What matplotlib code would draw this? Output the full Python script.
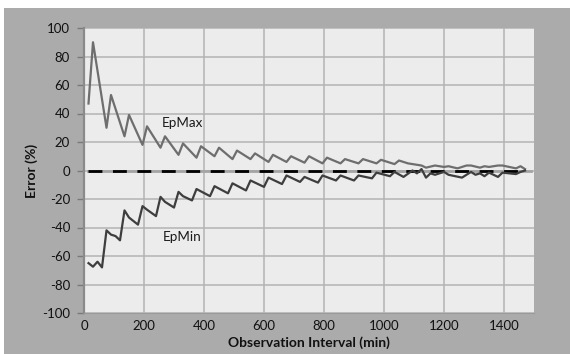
import matplotlib.pyplot as plt
from matplotlib.patches import Rectangle

plt.rcParams['font.family'] = ['Lato', 'DejaVu Sans']
plt.rcParams['axes.unicode_minus'] = False

# ── data ───────────────────────────────────────────────────
epmax_x = [15, 30, 75, 90, 135, 150, 195, 210, 255, 270, 315, 330, 375, 390,
           435, 450, 495, 510, 555, 570, 615, 630, 675, 690, 735, 750, 795, 810,
           855, 870, 915, 930, 975, 990, 1035, 1050, 1080, 1110, 1125, 1140,
           1170, 1200, 1215, 1245, 1275, 1290, 1320, 1335, 1350, 1380, 1395,
           1440, 1455, 1470]
epmax_y = [47, 90, 30, 53, 24, 39, 18, 31, 16, 24, 11, 19, 9, 17,
           10, 16, 8, 14, 8, 12, 6, 11, 6, 10, 5.5, 10, 5, 9,
           5, 8, 5, 8, 5, 7.5, 4.5, 7, 5, 4, 3.5, 2,
           3.5, 2.5, 3, 1.5, 3.5, 3.5, 2, 3, 2.5, 3.5, 3.5,
           1.5, 3, 1]

epmin_x = [15, 30, 45, 60, 75, 90, 105, 120, 135, 150, 180, 195, 210, 240,
           255, 270, 300, 315, 330, 360, 375, 420, 435, 480, 495, 540, 555, 600,
           615, 660, 675, 720, 735, 780, 795, 840, 855, 900, 915, 960, 975, 1020,
           1035, 1065, 1095, 1110, 1125, 1140, 1155, 1170, 1200, 1215, 1260,
           1290, 1305, 1320, 1335, 1350, 1380, 1395, 1440, 1455, 1470]
epmin_y = [-65, -67.5, -64, -68, -42, -45, -46, -49, -28, -33, -38, -25, -27.5, -32,
           -18.5, -22, -26, -15, -18, -21, -13, -18, -11, -16, -9, -14, -7, -11.5,
           -5, -9.5, -3.5, -8, -4.5, -8.5, -3.5, -7, -3.5, -7, -3.5, -5.5, -1.5, -4,
           -1, -4.5, 0, -2, 1, -5, -2, -3, -1, -3, -5,
           -1, -3, -2, -4, -1.5, -4.5, -1.5, -2.5, -1, 0]

zero_x = [13, 1490]
dash_x = [13, 1470]
zero_y = [0, 0]

xticks = list(range(0, 1401, 200))
yticks = list(range(-100, 101, 20))

# ── figure ─────────────────────────────────────────────────
fig = plt.figure(figsize=(5.70, 3.54), dpi=100, facecolor='#ababab')
fig.patches.append(Rectangle((0, 1 - 8 / 354), 1, 8 / 354, transform=fig.transFigure,
                             facecolor='white', edgecolor='none', zorder=-1))
fig.patches.append(Rectangle((0, 0), 4 / 570, 1, transform=fig.transFigure,
                             facecolor='white', edgecolor='none', zorder=-1))

ax = fig.add_axes([84 / 570, 41 / 354, 450 / 570, 285 / 354])
ax.set_facecolor('#ececec')

ax.plot(zero_x, zero_y, color='#a4a4a4', lw=2.0, zorder=2)
ax.plot(dash_x, zero_y, color='black', lw=2.0, ls=(0, (5, 3.8)), zorder=3)
ax.plot(epmax_x, epmax_y, color='#6e6e6e', lw=1.6, zorder=4)
ax.plot(epmin_x, epmin_y, color='#3e3e3e', lw=1.6, zorder=4)

ax.text(327, 33, 'EpMax', fontsize=9.7, ha='center', va='center', color='#1a1a1a')
ax.text(327, -47, 'EpMin', fontsize=9.7, ha='center', va='center', color='#1a1a1a')

ax.set_xlim(0, 1500)
ax.set_ylim(-100, 100)
ax.set_xticks(xticks)
ax.set_yticks(yticks)
ax.grid(True, color='#b3b3b3', lw=1.1)
ax.set_axisbelow(True)

ax.tick_params(axis='y', direction='out', length=5, width=1, color='#7a7a7a',
               labelsize=9.5, pad=5, labelcolor='#111111')
ax.tick_params(axis='x', length=0, labelsize=9.5, pad=5, labelcolor='#111111')

for s in ['top', 'right']:
    ax.spines[s].set_visible(False)
ax.spines['left'].set_color('#8a8a8a')
ax.spines['left'].set_linewidth(1.6)
ax.spines['bottom'].set_color('#9a9a9a')
ax.spines['bottom'].set_linewidth(0.8)

ax.set_xlabel('Observation Interval (min)', fontsize=10, fontweight='bold',
              color='#111111', labelpad=3)
ax.set_ylabel('Error (%)', fontsize=10, fontweight='bold', color='#111111', labelpad=3)

fig.savefig('out.png', dpi=100, facecolor=fig.get_facecolor())
